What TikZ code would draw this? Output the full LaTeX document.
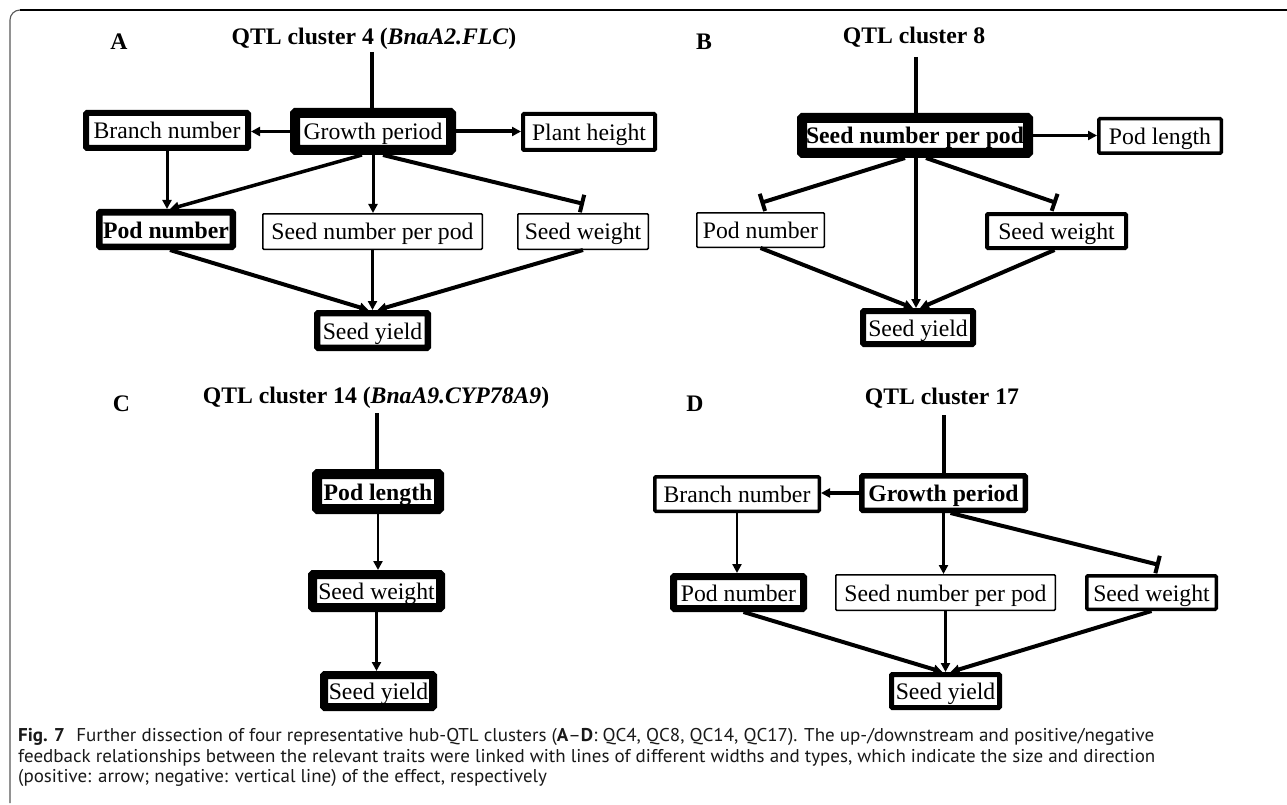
\documentclass[tikz,border=0pt]{standalone}
\usepackage{fontspec}
\usepackage{graphicx}
\setmainfont{Liberation Serif}
\newfontfamily\capfont{PT Sans}
\usetikzlibrary{arrows.meta,calc}
\newlength\capw
\newcommand\caplineone{{\bfseries Fig. 7}\hspace{0.6em}Further dissection of four representative hub-QTL clusters ({\bfseries A}–{\bfseries D}: QC4, QC8, QC14, QC17). The up-/downstream and positive/negative}
\newcommand\caplinetwo{feedback relationships between the relevant traits were linked with lines of different widths and types, which indicate the size and direction}
\newcommand\caplinethree{(positive: arrow; negative: vertical line) of the effect, respectively}
\tikzset{
  trait/.style={draw, fill=white, inner sep=0pt, rounded corners=1pt,
    font=\fontsize{23.7}{26}\selectfont, text height=17pt, text depth=0pt},
  ttl/.style={font=\fontsize{23.7}{26}\selectfont\bfseries, anchor=base, inner sep=0pt},
  plab/.style={font=\fontsize{23.7}{26}\selectfont\bfseries, anchor=base, inner sep=0pt},
  posarr/.style={-{Triangle[length=9pt,width=9pt]}},
  negarr/.style={-{Bar[width=18pt]}},
  stem/.style={line width=3.5pt},
  capline/.style={anchor=base west, inner sep=0pt, text=black!90, font=\capfont\fontsize{18.5}{20}\selectfont},
}
\begin{document}
\settowidth{\capw}{\capfont\fontsize{18.5}{20}\selectfont\caplineone}%
\pgfmathsetmacro\capsx{1136/\capw}%
\begin{tikzpicture}[x=1pt,y=-1pt]
\useasboundingbox (0,0) rectangle (1287,805);
\fill[white] (0,0) rectangle (1287,805);
% frame
\draw[line width=1.1pt, black!65, rounded corners=10pt] (10,803) -- (10,10) -- (40,10);
\draw[line width=1.4pt] (20,10) -- (1287,10);

% ---------------- Panel A ----------------
\node[plab] (labA) at (119,50) {A};
\node[ttl] (ttlA) at (374,44.5) {QTL cluster 4 (\textit{BnaA2.FLC})};
\coordinate (tA) at (372,52);
\node[trait, line width=10pt, minimum width=156pt, minimum height=37pt] (GPa) at (373,131.5) {Growth period};
\node[trait, line width=6pt, minimum width=162pt, minimum height=35pt] (BNa) at (167,130.5) {Branch number};
\node[trait, line width=4pt, minimum width=132pt, minimum height=36pt] (PHa) at (589,132) {Plant height};
\node[trait, line width=6.5pt, minimum width=133.5pt, minimum height=34.5pt, font=\fontsize{23.7}{26}\selectfont\bfseries] (PNa) at (166,229.5) {Pod number};
\node[trait, line width=1.5pt, minimum width=219.5pt, minimum height=35.5pt] (SNPPa) at (372.5,231.5) {Seed number per pod};
\node[trait, line width=1.5pt, minimum width=130.5pt, minimum height=35.5pt] (SWa) at (583,231.5) {Seed weight};
\node[trait, line width=6.3pt, minimum width=110.7pt, minimum height=34.7pt] (SYa) at (372.5,330.5) {Seed yield};

\draw[stem] (tA) -- (tA |- GPa.north);
\draw[posarr, line width=3.5pt] (GPa.west) -- (GPa.west -| BNa.east);
\draw[posarr, line width=4pt] (GPa.east) -- (GPa.east -| PHa.west);
\draw[posarr, line width=3pt] (BNa.south) -- (BNa.south |- PNa.north);
\draw[posarr, line width=3.5pt] ($(GPa.south)+(-11,0)$) -- ($(PNa.north)+(4,0)$);
\draw[posarr, line width=3pt] (GPa.south) -- (GPa.south |- SNPPa.north);
\draw[negarr, line width=4pt] ($(GPa.south)+(10,0)$) -- ($(SWa.north)+(1,-9)$);
\draw[posarr, line width=4pt] ($(PNa.south)+(4,0)$) -- ($(SYa.north)+(-4,0)$);
\draw[posarr, line width=3.5pt] (SNPPa.south) -- (SNPPa.south |- SYa.north);
\draw[posarr, line width=4pt] (SWa.south) -- ($(SYa.north)+(5,0)$);

% ---------------- Panel B ----------------
\node[plab] (labB) at (704,50) {B};
\node[ttl] (ttlB) at (914,43.5) {QTL cluster 8};
\coordinate (tB) at (916,57);
\node[trait, line width=10pt, minimum width=226pt, minimum height=35pt, font=\fontsize{23.7}{26}\selectfont\bfseries] (SNPPb) at (915,135.5) {Seed number per pod};
\node[trait, line width=3.5pt, minimum width=122.5pt, minimum height=34.5pt] (PLb) at (1160,136) {Pod length};
\node[trait, line width=1.5pt, minimum width=127.5pt, minimum height=34.5pt] (PNb) at (760.5,230) {Pod number};
\node[trait, line width=4pt, minimum width=139pt, minimum height=34pt] (SWb) at (1056.5,231) {Seed weight};
\node[trait, line width=6pt, minimum width=110pt, minimum height=33pt] (SYb) at (918,327.5) {Seed yield};

\draw[stem, line width=4pt] (tB) -- (tB |- SNPPb.north);
\draw[posarr, line width=3.5pt] (SNPPb.east) -- (SNPPb.east -| PLb.west);
\draw[negarr, line width=4pt] ($(SNPPb.south)+(-10,0)$) -- ($(PNb.north)+(0,-9)$);
\draw[posarr, line width=3.5pt] ($(SNPPb.south)+(1,0)$) -- ($(SYb.north)+(-2,0)$);
\draw[negarr, line width=4pt] ($(SNPPb.south)+(11,0)$) -- ($(SWb.north)+(0,-9)$);
\draw[posarr, line width=4pt] (PNb.south) -- ($(SYb.north)+(-5,0)$);
\draw[posarr, line width=4pt] ($(SWb.south)+(-2,0)$) -- ($(SYb.north)+(2,0)$);

% ---------------- Panel C ----------------
\node[plab] (labC) at (121.5,411) {C};
\node[ttl] (ttlC) at (376,403) {QTL cluster 14 (\textit{BnaA9.CYP78A9})};
\coordinate (tC) at (377,413);
\node[trait, line width=10pt, minimum width=122pt, minimum height=35pt, font=\fontsize{23.7}{26}\selectfont\bfseries] (PLc) at (378,491.5) {Pod length};
\node[trait, line width=9pt, minimum width=128pt, minimum height=33pt] (SWc) at (376.5,591) {Seed weight};
\node[trait, line width=8pt, minimum width=109pt, minimum height=32pt] (SYc) at (378.5,691) {Seed yield};

\draw[stem] (tC) -- (tC |- PLc.north);
\draw[posarr, line width=2.5pt] (PLc.south) -- (PLc.south |- SWc.north);
\draw[posarr, line width=3pt] (SWc.south) -- (SWc.south |- SYc.north);

% ---------------- Panel D ----------------
\node[plab] (labD) at (695,411) {D};
\node[ttl] (ttlD) at (942,404) {QTL cluster 17};
\coordinate (tD) at (944,415);
\node[trait, line width=5.5pt, minimum width=163.5pt, minimum height=34.5pt, font=\fontsize{23.7}{26}\selectfont\bfseries] (GPd) at (943.5,493) {Growth period};
\node[trait, line width=3.5pt, minimum width=164.5pt, minimum height=34.5pt] (BNd) at (737,494) {Branch number};
\node[trait, line width=7pt, minimum width=130pt, minimum height=32pt] (PNd) at (738.5,592.5) {Pod number};
\node[trait, line width=1.5pt, minimum width=219.5pt, minimum height=35.5pt] (SNPPd) at (945.5,592.5) {Seed number per pod};
\node[trait, line width=3.5pt, minimum width=129.5pt, minimum height=33.5pt] (SWd) at (1151.5,592.5) {Seed weight};
\node[trait, line width=5pt, minimum width=108pt, minimum height=33pt] (SYd) at (945.5,691) {Seed yield};

\draw[stem] (tD) -- (tD |- GPd.north);
\draw[posarr, line width=3.5pt] (GPd.west) -- (GPd.west -| BNd.east);
\draw[posarr, line width=2.5pt] (BNd.south) -- (BNd.south |- PNd.north);
\draw[posarr, line width=3pt] (GPd.south) -- (GPd.south |- SNPPd.north);
\draw[negarr, line width=4pt] ($(GPd.south)+(7,0)$) -- ($(SWd.north)+(8,-9)$);
\draw[posarr, line width=4pt] ($(PNd.south)+(5,0)$) -- ($(SYd.north)+(-3,0)$);
\draw[posarr, line width=3.5pt] (SNPPd.south) -- (SNPPd.south |- SYd.north);
\draw[posarr, line width=4pt] (SWd.south) -- ($(SYd.north)+(5,0)$);

% ---------------- Caption ----------------
\node[capline] (cap1) at (18,741.5) {\scalebox{\capsx}[1]{\caplineone}};
\node[capline] (cap2) at (18,762) {\scalebox{\capsx}[1]{\caplinetwo}};
\node[capline] (cap3) at (18,782.5) {\scalebox{\capsx}[1]{\caplinethree}};
\end{tikzpicture}
\end{document}
